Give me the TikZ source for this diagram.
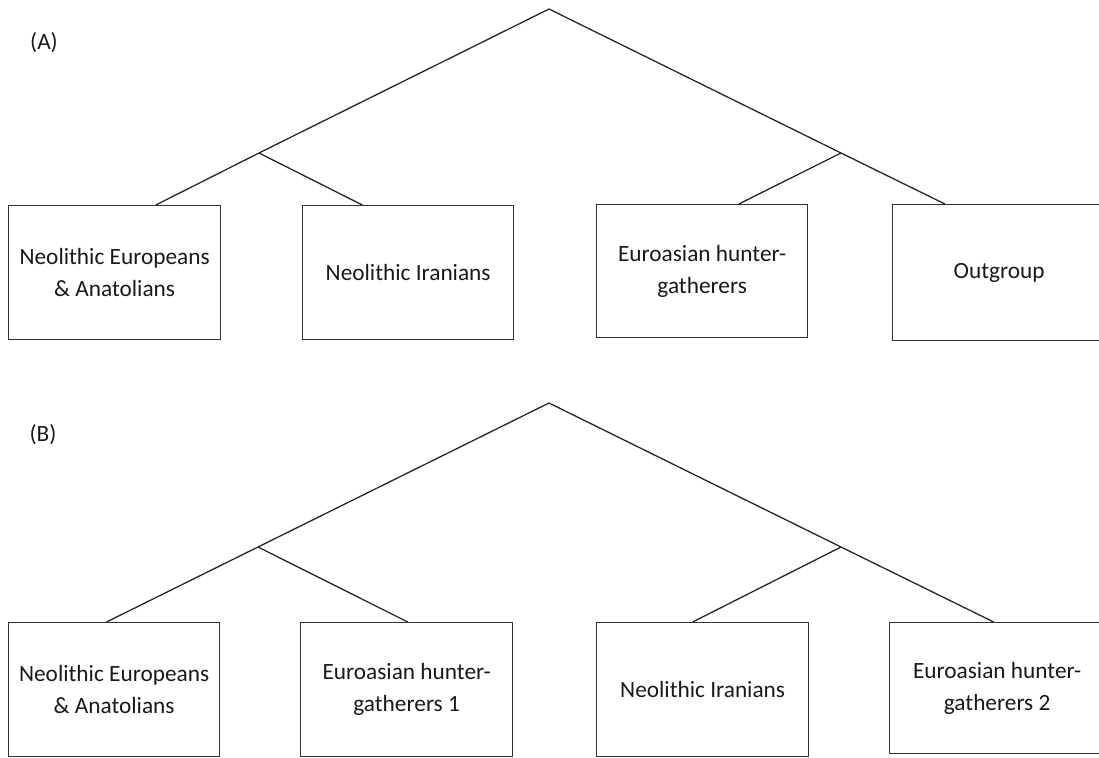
\documentclass[tikz,border=0pt]{standalone}
\usepackage{fontspec}
\setmainfont{Carlito}
\usetikzlibrary{calc}

\tikzset{
  taxon/.style={draw=black!80,line width=1.3pt,anchor=north west,inner sep=0pt,
    minimum width=212pt,minimum height=134pt,align=center,
    font=\fontsize{23.3}{32}\selectfont,text=black!90},
  branch/.style={line width=1.3pt,black!85,line join=round},
  panel/.style={font=\fontsize{23.3}{28}\selectfont,text=black!90}
}

\begin{document}
\begin{tikzpicture}[x=1pt,y=-1pt]
        \useasboundingbox (0,0) rectangle (1099,757);

        % (A): two pairs of groups, outgroup on the right
        \node[panel] (labA) at (44,43) {(A)};
        \node[taxon] (neoEuA)  at (8,205)   {Neolithic Europeans\\\& Anatolians};
        \node[taxon,minimum width=211pt] (neoIrA) at (302,205) {Neolithic Iranians};
        \node[taxon,minimum width=211pt,minimum height=133pt] (huntA) at (596,204) {Euroasian hunter-\\gatherers};
        \node[taxon,minimum width=213pt,minimum height=136pt] (outA) at (892,204) {Outgroup};

        \coordinate (rootA) at (549,9);
        \coordinate (leftA) at (259,153);
        \coordinate (rightA) at (841,153);

        \draw[branch] (rootA) -- (leftA) -- ($(neoEuA.north west)!0.693!(neoEuA.north east)$);
        \draw[branch] (leftA) -- ($(neoIrA.north west)!0.284!(neoIrA.north east)$);
        \draw[branch] (rootA) -- (rightA) -- ($(outA.north west)!0.247!(outA.north east)$);
        \draw[branch] (rightA) -- ($(huntA.north west)!0.673!(huntA.north east)$);

        % (B): hunter-gatherers split over both pairs
        \node[panel] (labB) at (43,435) {(B)};
        \node[taxon,minimum width=211pt] (neoEuB) at (8,622) {Neolithic Europeans\\\& Anatolians};
        \node[taxon] (huntB1) at (300,622) {Euroasian hunter-\\gatherers 1};
        \node[taxon] (neoIrB) at (596,622) {Neolithic Iranians};
        \node[taxon,minimum width=215pt,minimum height=131pt] (huntB2) at (889,622) {Euroasian hunter-\\gatherers 2};

        \coordinate (rootB) at (549,403);
        \coordinate (leftB) at (258,547);
        \coordinate (rightB) at (841,547);

        \draw[branch] (rootB) -- (leftB) -- ($(neoEuB.north west)!0.464!(neoEuB.north east)$);
        \draw[branch] (leftB) -- ($(huntB1.north west)!0.505!(huntB1.north east)$);
        \draw[branch] (rootB) -- (rightB) -- ($(huntB2.north west)!0.484!(huntB2.north east)$);
        \draw[branch] (rightB) -- ($(neoIrB.north west)!0.453!(neoIrB.north east)$);
    \end{tikzpicture}
\end{document}
